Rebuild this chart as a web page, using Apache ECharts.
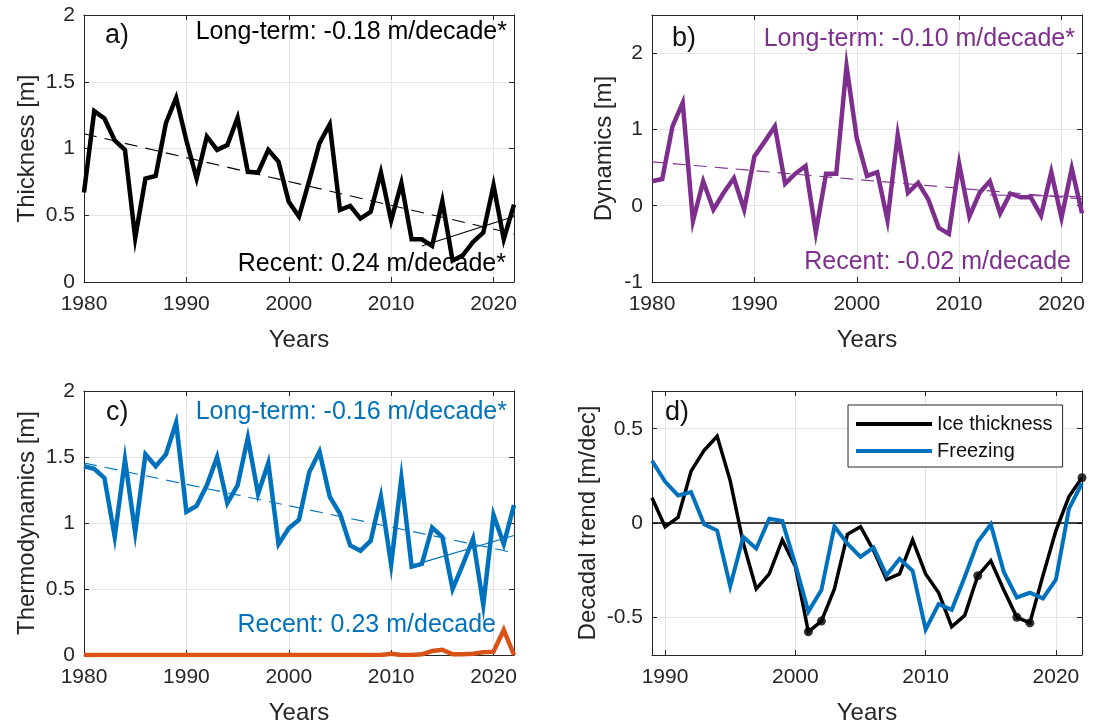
<!DOCTYPE html>
<html><head><meta charset="utf-8">
<script src="https://cdn.jsdelivr.net/npm/echarts@6/dist/echarts.min.js"></script>
<style>html,body{margin:0;padding:0;background:#fff}#c{width:1101px;height:723px}</style>
</head><body><div id="c"></div>
<script>
// ---------- data ----------
const years = [1980,1981,1982,1983,1984,1985,1986,1987,1988,1989,1990,1991,1992,1993,1994,1995,1996,1997,1998,1999,2000,2001,2002,2003,2004,2005,2006,2007,2008,2009,2010,2011,2012,2013,2014,2015,2016,2017,2018,2019,2020,2021,2022];
const thickness = [0.67,1.28,1.225,1.06,0.99,0.33,0.775,0.795,1.19,1.38,1.06,0.775,1.09,0.99,1.025,1.23,0.825,0.82,0.99,0.90,0.60,0.49,0.76,1.04,1.18,0.54,0.57,0.475,0.525,0.82,0.46,0.74,0.32,0.32,0.27,0.605,0.16,0.20,0.30,0.37,0.725,0.32,0.58];
const dynamics = [0.32,0.35,1.04,1.35,-0.2,0.32,-0.05,0.17,0.36,-0.05,0.645,0.84,1.04,0.29,0.42,0.52,-0.35,0.42,0.42,1.83,0.885,0.39,0.44,-0.19,0.93,0.17,0.30,0.08,-0.29,-0.37,0.55,-0.14,0.17,0.32,-0.10,0.16,0.11,0.11,-0.13,0.44,-0.16,0.49,-0.10];
const thermo = [1.43,1.41,1.34,0.895,1.48,0.93,1.52,1.43,1.52,1.76,1.085,1.13,1.285,1.50,1.15,1.285,1.645,1.22,1.455,0.84,0.96,1.025,1.385,1.54,1.20,1.07,0.83,0.79,0.865,1.20,0.685,1.34,0.67,0.69,0.965,0.895,0.50,0.685,0.88,0.38,1.06,0.84,1.135];
const thermoOther = [0,0,0,0,0,0,0,0,0,0,0,0,0,0,0,0,0,0,0,0,0,0,0,0,0,0,0,0,0,0,0.01,0,0,0.005,0.03,0.04,0.005,0.005,0.01,0.02,0.025,0.19,0.0];

// trend lines: [start year, end year] and [start value, end value]
const longYears = [1980, 2022];
const recentYears = [2013, 2022];
const longA = [1.11, 0.36], recentA = [0.27, 0.49];
const longB = [0.575, 0.09], recentB = [0.14, 0.12];
const longC = [1.455, 0.775], recentC = [0.70, 0.905];

const yearsD = [1989,1990,1991,1992,1993,1994,1995,1996,1997,1998,1999,2000,2001,2002,2003,2004,2005,2006,2007,2008,2009,2010,2011,2012,2013,2014,2015,2016,2017,2018,2019,2020,2021,2022];
const iceTrend = [0.134,-0.02,0.03,0.275,0.385,0.46,0.225,-0.105,-0.35,-0.27,-0.09,-0.23,-0.577,-0.52,-0.35,-0.06,-0.02,-0.145,-0.30,-0.27,-0.09,-0.27,-0.37,-0.55,-0.49,-0.28,-0.20,-0.355,-0.50,-0.53,-0.28,-0.04,0.14,0.24];
const freezeTrend = [0.33,0.22,0.146,0.164,-0.007,-0.04,-0.335,-0.074,-0.135,0.023,0.01,-0.22,-0.47,-0.356,-0.018,-0.11,-0.18,-0.13,-0.277,-0.19,-0.254,-0.564,-0.43,-0.46,-0.286,-0.10,-0.007,-0.26,-0.395,-0.37,-0.40,-0.30,0.076,0.21];
const sigYears = [2001, 2002, 2014, 2017, 2018, 2022];
const zeroLineYears = [1989, 2022];

const labelsA = {panel: 'a)', long: 'Long-term: -0.18 m/decade*', recent: 'Recent: 0.24 m/decade*'};
const labelsB = {panel: 'b)', long: 'Long-term: -0.10 m/decade*', recent: 'Recent: -0.02 m/decade'};
const labelsC = {panel: 'c)', long: 'Long-term: -0.16 m/decade*', recent: 'Recent: 0.23 m/decade'};
const labelsD = {panel: 'd)'};

// ---------- styling / helpers ----------
const FONT = '"Liberation Sans", Arial, Helvetica, sans-serif';
const AX = '#262626';
const BLACK = '#000000', PURPLE = '#7E2F8E', BLUE = '#0072BD', ORANGE = '#D95319';

function pairs(xs, ys) { return xs.map((x, i) => [x, ys[i]]); }
function multOf(v, step) { const r = v / step; return Math.abs(r - Math.round(r)) < 1e-6; }

function axisBase(gi, min, max, step, useMinMax) {
  const a = {type: 'value', gridIndex: gi, min: min, max: max, scale: true};
  if (useMinMax) { a.minInterval = step; a.maxInterval = step; a.splitNumber = 3; }
  else a.interval = step;
  return a;
}
function mainAxis(gi, min, max, step, useMinMax, position, name, gap, labelMargin) {
  return Object.assign(axisBase(gi, min, max, step, useMinMax), {
    position: position,
    axisLine: {show: true, onZero: false, lineStyle: {color: AX, width: 1}},
    axisTick: {show: true, inside: true, length: 5, lineStyle: {color: AX, width: 1}},
    axisLabel: {show: true, color: AX, fontSize: 21, fontFamily: FONT, margin: labelMargin,
      formatter: v => multOf(v, step) ? String(+v.toFixed(4)) : ''},
    splitLine: {show: true, lineStyle: {color: '#e4e4e4', width: 1}},
    name: name, nameLocation: 'middle', nameGap: gap,
    nameTextStyle: {color: AX, fontSize: 24, fontFamily: FONT}
  });
}
function mirrorAxis(gi, min, max, step, useMinMax, position) {
  return Object.assign(axisBase(gi, min, max, step, useMinMax), {
    position: position,
    axisLine: {show: true, onZero: false, lineStyle: {color: AX, width: 1}},
    axisTick: {show: true, inside: true, length: 5, lineStyle: {color: AX, width: 1}},
    axisLabel: {show: false},
    splitLine: {show: false}
  });
}

const gridBase = {containLabel: false, outerBoundsMode: 'none'};
const grids = [
  Object.assign({left: 84, top: 15, width: 430, height: 267}, gridBase),
  Object.assign({left: 652, top: 15, width: 430, height: 267}, gridBase),
  Object.assign({left: 84, top: 391, width: 430, height: 264}, gridBase),
  Object.assign({left: 652, top: 391, width: 430, height: 264}, gridBase)
];

const xAxes = [
  mainAxis(0, 1980, 2022, 10, false, 'bottom', 'Years', 46, 12),
  mainAxis(1, 1980, 2022, 10, false, 'bottom', 'Years', 46, 12),
  mainAxis(2, 1980, 2022, 10, false, 'bottom', 'Years', 46, 12),
  mainAxis(3, 1989, 2022, 10, true, 'bottom', 'Years', 46, 12),
  mirrorAxis(0, 1980, 2022, 10, false, 'top'),
  mirrorAxis(1, 1980, 2022, 10, false, 'top'),
  mirrorAxis(2, 1980, 2022, 10, false, 'top'),
  mirrorAxis(3, 1989, 2022, 10, true, 'top')
];
const yAxes = [
  mainAxis(0, 0, 2, 0.5, false, 'left', 'Thickness [m]', 45, 9),
  mainAxis(1, -1, 2.5, 1, false, 'left', 'Dynamics [m]', 36, 9),
  mainAxis(2, 0, 2, 0.5, false, 'left', 'Thermodynamics [m]', 45, 9),
  mainAxis(3, -0.7, 0.7, 0.5, true, 'left', 'Decadal trend [m/dec]', 52, 9),
  mirrorAxis(0, 0, 2, 0.5, false, 'right'),
  mirrorAxis(1, -1, 2.5, 1, false, 'right'),
  mirrorAxis(2, 0, 2, 0.5, false, 'right'),
  mirrorAxis(3, -0.7, 0.7, 0.5, true, 'right')
];

function line(gi, name, data, color, width, type, z) {
  return {type: 'line', name: name, xAxisIndex: gi, yAxisIndex: gi, data: data,
    symbol: 'none', smooth: false, silent: true, z: z || 2,
    lineStyle: {color: color, width: width, type: type || 'solid', cap: 'butt', join: 'miter'},
    itemStyle: {color: color}};
}
const DASH = [13, 8];

const iceByYear = {};
yearsD.forEach((y, i) => { iceByYear[y] = iceTrend[i]; });

const series = [
  line(0, 'longA', pairs(longYears, longA), BLACK, 1.1, DASH, 1),
  line(0, 'recentA', pairs(recentYears, recentA), BLACK, 1.1, 'solid', 1),
  line(0, 'Thickness', pairs(years, thickness), BLACK, 4.5, 'solid', 3),

  line(1, 'longB', pairs(longYears, longB), PURPLE, 1.1, DASH, 1),
  line(1, 'recentB', pairs(recentYears, recentB), PURPLE, 1.1, 'solid', 1),
  line(1, 'Dynamics', pairs(years, dynamics), PURPLE, 4.5, 'solid', 3),

  line(2, 'longC', pairs(longYears, longC), BLUE, 1.1, DASH, 1),
  line(2, 'recentC', pairs(recentYears, recentC), BLUE, 1.1, 'solid', 1),
  line(2, 'Thermodynamics', pairs(years, thermo), BLUE, 4.5, 'solid', 3),
  line(2, 'Other', pairs(years, thermoOther), ORANGE, 4.5, 'solid', 4),

  line(3, 'zero', pairs(zeroLineYears, [0, 0]), BLACK, 1.6, 'solid', 1),
  line(3, 'Ice thickness', pairs(yearsD, iceTrend), BLACK, 3.5, 'solid', 3),
  line(3, 'Freezing', pairs(yearsD, freezeTrend), BLUE, 4, 'solid', 4),
  {type: 'scatter', name: 'sig', xAxisIndex: 3, yAxisIndex: 3, silent: true, z: 5,
    data: sigYears.map(y => [y, iceByYear[y]]), symbol: 'circle', symbolSize: 9,
    itemStyle: {color: BLACK}}
];

function txt(x, y, text, color, size, align) {
  return {type: 'text', x: x, y: y, z: 100, silent: true,
    style: {text: text, fill: color, font: size + 'px ' + FONT, align: align || 'left', verticalAlign: 'middle'}};
}
const graphics = [
  txt(105, 36, labelsA.panel, '#111', 27),
  txt(507, 32, labelsA.long, BLACK, 25, 'right'),
  txt(506, 264, labelsA.recent, BLACK, 25, 'right'),
  txt(672, 39, labelsB.panel, '#111', 27),
  txt(1075, 39, labelsB.long, PURPLE, 25, 'right'),
  txt(1071, 262, labelsB.recent, PURPLE, 25, 'right'),
  txt(106, 413, labelsC.panel, '#111', 27),
  txt(507, 412, labelsC.long, BLUE, 25, 'right'),
  txt(496, 625, labelsC.recent, BLUE, 25, 'right'),
  txt(665, 413, labelsD.panel, '#111', 27)
];

const chart = echarts.init(document.getElementById('c'), null, {renderer: 'canvas'});
chart.setOption({
  animation: false,
  backgroundColor: '#ffffff',
  textStyle: {fontFamily: FONT},
  grid: grids,
  xAxis: xAxes,
  yAxis: yAxes,
  legend: {
    data: ['Ice thickness', 'Freezing'],
    left: 848, top: 405, orient: 'vertical',
    icon: 'rect', itemWidth: 76, itemHeight: 4, itemGap: 7,
    padding: [9, 10, 6, 8],
    backgroundColor: '#ffffff', borderColor: AX, borderWidth: 1, borderRadius: 0,
    textStyle: {fontSize: 20, color: '#111', fontFamily: FONT, padding: [0, 0, 0, 0]},
    selectedMode: false
  },
  series: series,
  graphic: graphics
});
</script>
</body></html>
